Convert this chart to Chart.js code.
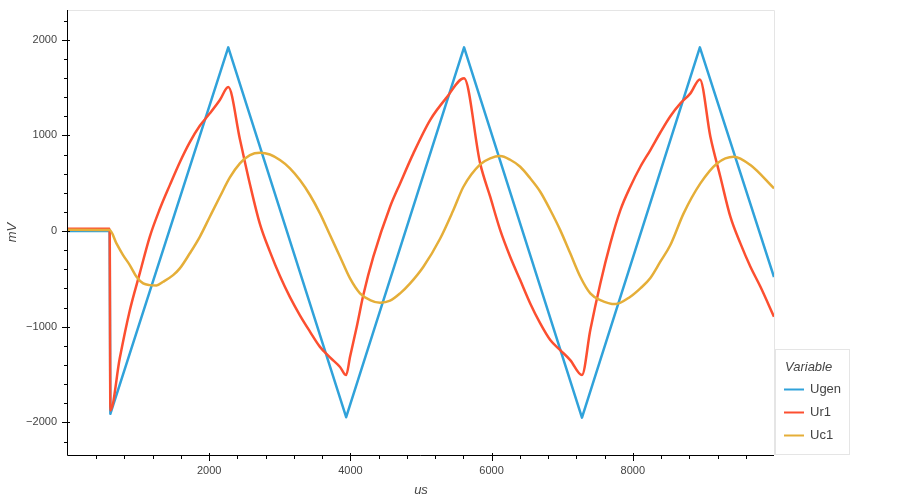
<!DOCTYPE html>
<html>
<head>
<meta charset="utf-8">
<script src="https://cdn.jsdelivr.net/npm/chart.js@4.4.1/dist/chart.umd.min.js"></script>
<style>
  html, body { margin: 0; padding: 0; background: #fff; }
  canvas { display: block; }
</style>
</head>
<body>
<canvas id="myChart" width="900" height="500"></canvas>
<script>
const ugenColor = '#30a2da'
const ur1Color = '#fc4f30'
const uc1Color = '#e5ae38'
const textColor = '#444'
const fontFamily = '"Liberation Sans", Arial, Helvetica, sans-serif'

// ---- data (time in us, voltage in mV) ----
const seriesNames = ['Ugen', 'Ur1', 'Uc1']

const ugenTime = [0, 590, 600, 2270, 3940, 5610, 7280, 8950, 10000]
const ugenVal = [0, 0, -1910, 1920, -1945, 1920, -1950, 1920, -480]

const ur1Time = [0, 590, 600, 733, 875, 1017, 1158, 1300, 1442, 1584, 1726, 1867, 2009, 2151, 2270,
  2435, 2577, 2718, 2860, 3002, 3144, 3285, 3427, 3569, 3711, 3853, 3940,
  3995, 4090, 4183, 4325, 4562, 4704, 4892, 5129, 5365, 5610,
  5838, 5980, 6122, 6263, 6405, 6547, 6689, 6831, 6972, 7114, 7280,
  7398, 7540, 7682, 7824, 7965, 8107, 8249, 8390, 8532, 8674, 8816, 8950,
  9099, 9240, 9382, 9524, 9666, 9808, 10000]
const ur1Val = [25, 25, -1875, -1330, -830, -440, -60, 230, 480, 720, 930, 1100, 1230, 1370, 1505,
  960, 490, 75, -215, -470, -690, -880, -1050, -1210, -1320, -1420, -1505,
  -1313, -1000, -669, -268, 254, 498, 812, 1160, 1397, 1596,
  707, 359, 10, -268, -512, -756, -965, -1139, -1244, -1348, -1505,
  -1035, -547, -129, 219, 463, 672, 847, 1030, 1200, 1334, 1439, 1585,
  986, 567, 150, -129, -373, -582, -896]

const uc1Time = [0, 590, 686, 780, 875, 970, 1065, 1158, 1253, 1348, 1489, 1584, 1726, 1867, 2009, 2151, 2293,
  2435, 2577, 2718, 2860, 3002, 3144, 3285, 3427, 3569, 3711, 3853, 3995, 4136, 4278, 4420,
  4562, 4704, 4846, 5034, 5270, 5459, 5601, 5838, 5980, 6122, 6263, 6405, 6547, 6689, 6831, 6972, 7114,
  7256, 7398, 7540, 7753, 7965, 8107, 8249, 8390, 8532, 8720, 8957, 9193, 9429, 9666, 10000]
const uc1Val = [15, 10, -129, -251, -355, -477, -547, -565, -568, -530, -460, -390, -232, -60, 150, 358, 560,
  707, 794, 818, 800, 742, 656, 533, 377, 185, -42, -268, -495, -651, -721, -749,
  -728, -651, -547, -373, -80, 220, 463, 697, 760, 784, 745, 672, 551, 411, 220, 10, -233,
  -477, -651, -721, -763, -686, -599, -490, -320, -146, 185, 498, 707, 777, 690, 446]

const xTicks = [2000, 4000, 6000, 8000]
const yTicks = [-2000, -1000, 0, 1000, 2000]

function toPoints(times, vals) {
    return times.map((t, i) => ({ x: t, y: vals[i] }))
}

// ---- minor ticks, outline, legend ----
const frameExtras = {
    id: 'frameExtras',
    afterDraw(chart) {
        const c = chart.ctx
        const area = chart.chartArea
        const xs = chart.scales.x
        const ys = chart.scales.y
        c.save()

        // outline top + right
        c.strokeStyle = '#e5e5e5'
        c.lineWidth = 1
        c.beginPath()
        c.moveTo(area.left, area.top + 0.5)
        c.lineTo(area.right + 0.5, area.top + 0.5)
        c.lineTo(area.right + 0.5, area.bottom)
        c.stroke()

        // axis lines
        c.strokeStyle = '#000'
        c.beginPath()
        c.moveTo(area.left - 0.5, area.top)
        c.lineTo(area.left - 0.5, area.bottom + 0.5)
        c.lineTo(area.right, area.bottom + 0.5)
        c.stroke()

        // x ticks
        c.beginPath()
        for (let v = 400; v < 10000; v += 400) {
            const px = Math.round(xs.getPixelForValue(v)) + 0.5
            const major = xTicks.includes(v)
            c.moveTo(px, area.bottom - (major ? 2 : 0))
            c.lineTo(px, area.bottom + (major ? 6 : 4))
        }
        // y ticks
        for (let v = -2200; v <= 2200; v += 200) {
            const py = Math.round(ys.getPixelForValue(v)) + 0.5
            const major = yTicks.includes(v)
            c.moveTo(area.left + (major ? 2 : 0), py)
            c.lineTo(area.left - (major ? 6 : 4), py)
        }
        c.stroke()

        // legend
        const lx = area.right + 1
        const lw = 75
        const lh = 106
        const ly = area.bottom - lh
        c.fillStyle = '#fff'
        c.fillRect(lx, ly, lw, lh)
        c.strokeStyle = '#e5e5e5'
        c.strokeRect(lx + 0.5, ly + 0.5, lw - 1, lh - 1)

        c.fillStyle = textColor
        c.textBaseline = 'middle'
        c.textAlign = 'left'
        c.font = 'italic 13px ' + fontFamily
        c.fillText('Variable', lx + 10, ly + 18)

        c.font = '13px ' + fontFamily
        chart.data.datasets.forEach((ds, i) => {
            const yy = ly + 40.5 + i * 23
            c.strokeStyle = ds.borderColor
            c.lineWidth = 2
            c.beginPath()
            c.moveTo(lx + 9, yy)
            c.lineTo(lx + 29, yy)
            c.stroke()
            c.fillStyle = textColor
            c.fillText(ds.label, lx + 35, yy)
        })
        c.restore()
    }
}

var ctx = document.getElementById('myChart')
var lineChart = new Chart(ctx, {
    type: 'line',
    data: {
        datasets: [{
            label: seriesNames[0],
            data: toPoints(ugenTime, ugenVal),
            borderColor: ugenColor,
            borderWidth: 2.5,
            order: 3,
        }, {
            label: seriesNames[1],
            data: toPoints(ur1Time, ur1Val),
            borderColor: ur1Color,
            borderWidth: 2.5,
            cubicInterpolationMode: 'monotone',
            order: 2,
        }, {
            label: seriesNames[2],
            data: toPoints(uc1Time, uc1Val),
            borderColor: uc1Color,
            borderWidth: 2.5,
            cubicInterpolationMode: 'monotone',
            order: 1,
        }]
    },
    options: {
        responsive: false,
        animation: false,
        devicePixelRatio: 1,
        elements: {
            point: { radius: 0 },
            line: { tension: 0, fill: false, borderJoinStyle: 'round' }
        },
        layout: { padding: { top: 10, right: 126, left: 0, bottom: 0 } },
        plugins: {
            legend: { display: false },
            tooltip: { enabled: false }
        },
        scales: {
            x: {
                type: 'linear',
                min: 0,
                max: 10000,
                afterBuildTicks: (scale) => { scale.ticks = xTicks.map(v => ({ value: v })) },
                afterFit: (scale) => {
                    scale.height = 45
                    scale.paddingLeft = 0
                    scale.paddingRight = 0
                },
                grid: { display: false, drawTicks: false },
                border: { display: false },
                ticks: {
                    color: textColor,
                    padding: 9,
                    maxRotation: 0,
                    font: { family: fontFamily, size: 11 },
                    callback: (v) => String(v)
                },
                title: {
                    display: true,
                    text: 'us',
                    color: textColor,
                    padding: { top: 0, bottom: 2 },
                    font: { family: fontFamily, size: 13, style: 'italic' }
                }
            },
            y: {
                min: -2340,
                max: 2310,
                afterBuildTicks: (scale) => { scale.ticks = yTicks.map(v => ({ value: v })) },
                afterFit: (scale) => {
                    scale.width = 68
                    scale.paddingTop = 0
                    scale.paddingBottom = 0
                },
                grid: { display: false, drawTicks: false },
                border: { display: false },
                ticks: {
                    color: textColor,
                    padding: 11,
                    font: { family: fontFamily, size: 11 },
                    callback: (v) => (v < 0 ? '\u2212' + Math.abs(v) : String(v))
                },
                title: {
                    display: true,
                    text: 'mV',
                    color: textColor,
                    padding: { top: 5, bottom: 0 },
                    font: { family: fontFamily, size: 13, style: 'italic' }
                }
            }
        }
    },
    plugins: [frameExtras]
})
</script>
</body>
</html>
